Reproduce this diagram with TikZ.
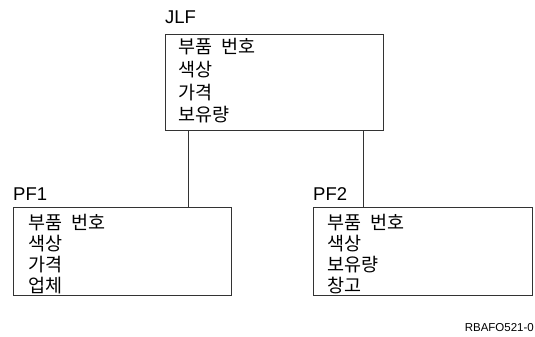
\documentclass[tikz,border=0pt]{standalone}
\usepackage{fontspec}
\setmainfont{Liberation Sans}
\newfontfamily\kor[WordSpace=2.3]{Noto Sans CJK KR}
\begin{document}
\begin{tikzpicture}[x=1pt,y=-1pt,
  box/.style={draw=black!80,line width=0.9pt,anchor=north west,inner sep=0pt},
  lbl/.style={anchor=base west,inner sep=0pt,font=\fontsize{18.5}{21}\selectfont},
  item/.style={anchor=base west,inner sep=0pt,font=\kor\fontsize{18.5}{21}\selectfont},
  conn/.style={draw=black!80,line width=0.9pt}]
\useasboundingbox (0,0) rectangle (535,337);
\node[box,minimum width=218pt,minimum height=96pt] (jlf) at (165,34) {};
\node[box,minimum width=218pt,minimum height=88pt] (pf1) at (13,207) {};
\node[box,minimum width=219pt,minimum height=88pt] (pf2) at (313,207) {};
\node[lbl] (tjlf) at (165,24) {JLF};
\node[lbl] (tpf1) at (13,200) {PF1};
\node[lbl] (tpf2) at (313,200) {PF2};
\foreach \t [count=\i from 0] in {부품 번호,색상,가격,보유량}
  \node[item] (jlf-\i) at (178,54+22.5*\i) {\t};
\foreach \t [count=\i from 0] in {부품 번호,색상,가격,업체}
  \node[item] (pf1-\i) at (28,229+21.3*\i) {\t};
\foreach \t [count=\i from 0] in {부품 번호,색상,보유량,창고}
  \node[item] (pf2-\i) at (327,229+21.3*\i) {\t};
\node[anchor=base east,inner sep=0pt,font=\fontsize{11.5}{13}\selectfont] (code) at (534,331) {RBAFO521-0};
\coordinate (c1) at (188,0);
\coordinate (c2) at (363,0);
\draw[conn] (jlf.south -| c1) -- (pf1.north -| c1);
\draw[conn] (jlf.south -| c2) -- (pf2.north -| c2);
\end{tikzpicture}
\end{document}
